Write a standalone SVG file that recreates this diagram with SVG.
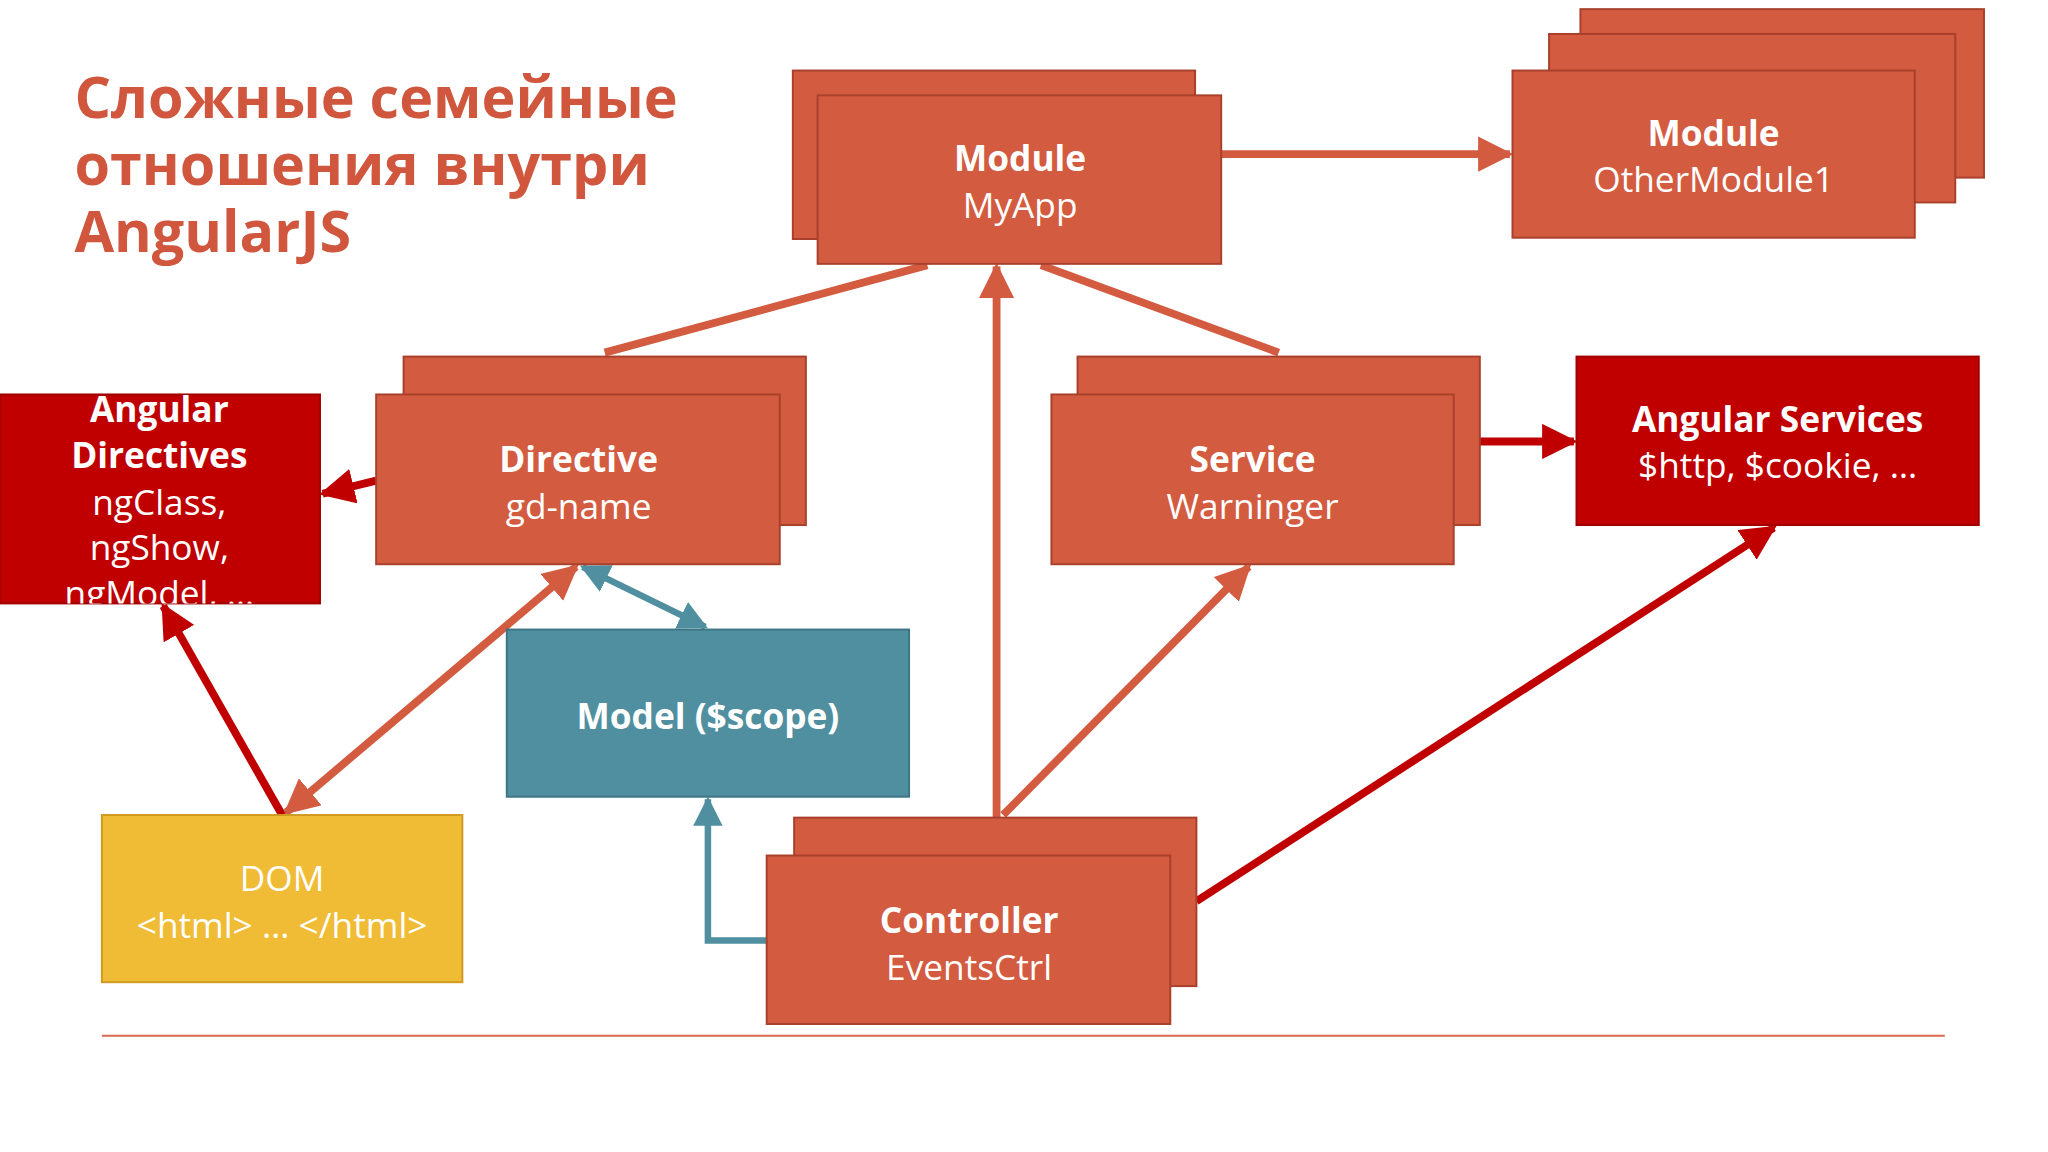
<svg xmlns="http://www.w3.org/2000/svg" width="2048" height="1152" viewBox="0 0 2048 1152">
<style>
.o{fill:#d35b40;stroke:#a8402b;stroke-width:1.5}
.r{fill:#c00000;stroke:#a00000;stroke-width:1.5}
.t{font-family:"Open Sans","Liberation Sans",sans-serif;fill:#fff;text-anchor:middle;font-size:27px}
.b{font-weight:bold}
.co{stroke:#d35b40;stroke-width:6;fill:none}
.cr{stroke:#c00000;stroke-width:6;fill:none}
.ct{stroke:#4f8fa0;stroke-width:5;fill:none}
</style>
<defs>
<marker id="ao" viewBox="0 0 10 10" refX="9" refY="5" markerWidth="4.5" markerHeight="4.5" orient="auto-start-reverse"><path d="M0,0L10,5L0,10z" fill="#d35b40"/></marker>
<marker id="ar" viewBox="0 0 10 10" refX="9" refY="5" markerWidth="4.5" markerHeight="4.5" orient="auto-start-reverse"><path d="M0,0L10,5L0,10z" fill="#c00000"/></marker>
<marker id="at" viewBox="0 0 10 10" refX="9" refY="5" markerWidth="4.5" markerHeight="4.5" orient="auto-start-reverse"><path d="M0,0L10,5L0,10z" fill="#4f8fa0"/></marker>
<clipPath id="cd"><rect x="0" y="302" width="245" height="160"/></clipPath>
</defs>
<rect width="2048" height="1152" fill="#fff"/>
<g transform="scale(1.30612)">
<g id="title" font-family="'Open Sans','Liberation Sans',sans-serif" font-weight="bold" font-size="44" fill="#d0573e">
<text x="57" y="90">Сложные семейные</text>
<text x="57" y="142">отношения внутри</text>
<text x="57" y="193">AngularJS</text>
</g>
<line x1="78" y1="793" x2="1489" y2="793" stroke="#d96a4c" stroke-width="1.5"/>
<g id="connectors">
<line class="co" x1="935" y1="118" x2="1156" y2="118" marker-end="url(#ao)"/>
<line class="co" x1="463" y1="270" x2="710" y2="203"/>
<line class="co" x1="979" y1="270" x2="797" y2="203"/>
<line class="co" x1="763" y1="626" x2="763" y2="204" marker-end="url(#ao)"/>
<line class="co" x1="768" y1="624" x2="956" y2="434" marker-end="url(#ao)"/>
<line class="cr" x1="916" y1="690" x2="1358" y2="404" marker-end="url(#ar)"/>
<line class="cr" x1="288" y1="368" x2="247" y2="378" marker-end="url(#ar)"/>
<line class="cr" x1="1133" y1="338" x2="1205" y2="338" marker-end="url(#ar)"/>
<line class="co" x1="219" y1="622" x2="441" y2="434" marker-start="url(#ao)" marker-end="url(#ao)"/>
<line class="cr" x1="216" y1="624" x2="125" y2="464" marker-end="url(#ar)"/>
<line class="ct" x1="540" y1="480" x2="446" y2="434" marker-start="url(#at)" marker-end="url(#at)"/>
<polyline class="ct" points="587,720 542,720 542,612" marker-end="url(#at)"/>
</g>
<g id="module-myapp"><rect class="o" x="607" y="54" width="308" height="129"/><rect class="o" x="626" y="73" width="309" height="129"/>
<text class="t b" x="781" y="131">Module</text><text class="t" x="781" y="167">MyApp</text></g>
<g id="module-other"><rect class="o" x="1210" y="7" width="309" height="129"/><rect class="o" x="1186" y="26" width="311" height="129"/><rect class="o" x="1158" y="54" width="308" height="128"/>
<text class="t b" x="1312" y="112">Module</text><text class="t" x="1312" y="147">OtherModule1</text></g>
<g id="directive"><rect class="o" x="309" y="273" width="308" height="129"/><rect class="o" x="288" y="302" width="309" height="130"/>
<text class="t b" x="443" y="361">Directive</text><text class="t" x="443" y="397">gd-name</text></g>
<g id="service"><rect class="o" x="825" y="273" width="308" height="129"/><rect class="o" x="805" y="302" width="308" height="130"/>
<text class="t b" x="959" y="361">Service</text><text class="t" x="959" y="397">Warninger</text></g>
<g id="angular-services"><rect class="r" x="1207" y="273" width="308" height="129"/>
<text class="t b" x="1361" y="331">Angular Services</text><text class="t" x="1361" y="366">$http, $cookie, …</text></g>
<g id="angular-directives"><rect class="r" x="0" y="302" width="245" height="160"/>
<g clip-path="url(#cd)"><text class="t b" x="122" y="323">Angular</text><text class="t b" x="122" y="358">Directives</text><text class="t" x="122" y="394">ngClass,</text><text class="t" x="122" y="429">ngShow,</text><text class="t" x="122" y="464">ngModel, …</text></g></g>
<g id="model"><rect x="388" y="482" width="308" height="128" fill="#4f8fa0" stroke="#3d7585" stroke-width="1.5"/>
<text class="t b" x="542" y="558">Model ($scope)</text></g>
<g id="dom"><rect x="78" y="624" width="276" height="128" fill="#f0bb35" stroke="#d09a20" stroke-width="1.5"/>
<text class="t" x="216" y="682">DOM</text><text class="t" x="216" y="718">&lt;html&gt; … &lt;/html&gt;</text></g>
<g id="controller"><rect class="o" x="608" y="626" width="308" height="129"/><rect class="o" x="587" y="655" width="309" height="129"/>
<text class="t b" x="742" y="714">Controller</text><text class="t" x="742" y="750">EventsCtrl</text></g>
</g>
</svg>
